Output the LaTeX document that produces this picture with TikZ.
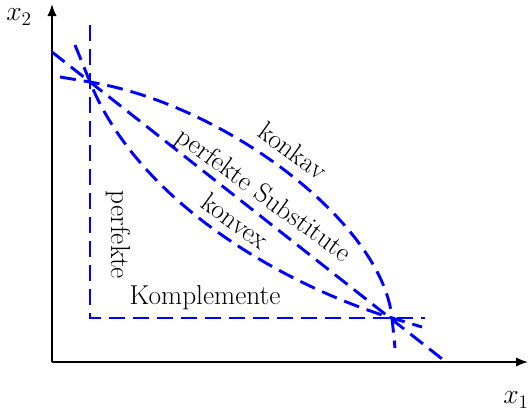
\documentclass[tikz,border=0pt]{standalone}
\usetikzlibrary{arrows.meta}
\begin{document}
\begin{tikzpicture}[x=0.75pt,y=-0.75pt,
  curve/.style={blue, line width=2.2pt, dash pattern=on 12pt off 6pt},
  axis/.style={line width=1.2pt, -{Latex[length=9pt,width=7pt]}},
  lbl/.style={font=\fontsize{20.5}{24}\selectfont, inner sep=0pt}]
\useasboundingbox (0,0) rectangle (528,411);
% axes
\coordinate (O) at (52,362);
\coordinate (Ytop) at (52,4);
\coordinate (Xend) at (528,362);
\draw[axis] (O) -- (Ytop);
\draw[axis] (O) -- (Xend);
\node[lbl] (x2) at (19,17) {$x_2$};
\node[lbl] (x1) at (516,400) {$x_1$};
% key points
\coordinate (A) at (90,82);
\coordinate (B) at (392,318);
% perfect complements
\coordinate (Vtop) at (90,25);
\coordinate (Corner) at (90,318);
\coordinate (Hend) at (425,318);
\draw[curve] (Vtop) -- (Corner) -- (Hend);
% perfect substitutes
\coordinate (S0) at (52,52);
\coordinate (S1) at (446,362);
\draw[curve] (S0) -- (S1);
% concave
\coordinate (K0) at (60,77);
\coordinate (K1) at (395,348);
\draw[curve] (K0) -- (A) .. controls (225,104.5) and (382.5,223) .. (B) -- (K1);
% convex
\coordinate (V0) at (75,45);
\coordinate (V1) at (422,327);
\draw[curve] (V0) -- (A) .. controls (142.7,212) and (302,291) .. (B) -- (V1);
% labels
\node[lbl, rotate=-36] (konkav) at (293,151) {konkav};
\node[lbl, rotate=-36] (subst) at (263,196) {perfekte Substitute};
\node[lbl, rotate=-36] (konvex) at (235,221) {konvex};
\node[lbl, rotate=-90] (perf) at (118,235) {perfekte};
\node[lbl] (kompl) at (205,298) {Komplemente};
\end{tikzpicture}
\end{document}
